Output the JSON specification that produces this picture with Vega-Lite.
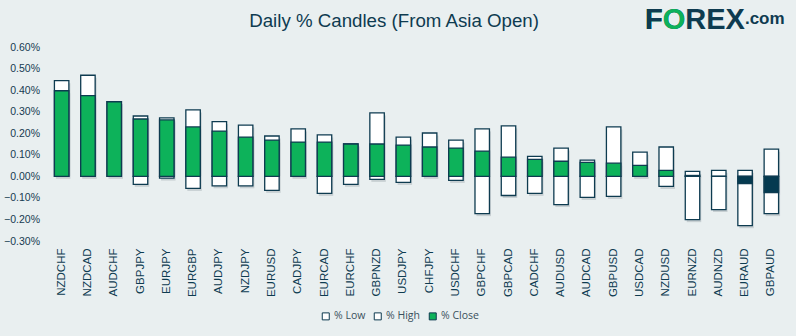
{
  "$schema": "https://vega.github.io/schema/vega-lite/v6.json",
  "width": 736,
  "height": 194,
  "autosize": {"type": "none"},
  "padding": {"left": 48.5, "top": 47, "right": 11.5, "bottom": 95},
  "background": "#e9eff0",
  "config": {
    "view": {"stroke": null},
    "font": "Liberation Sans",
    "axisY": {"labelOverlap": false, "labelFlush": false}
  },
  "title": {
    "text": "Daily % Candles (From Asia Open)",
    "anchor": "middle",
    "frame": "bounds",
    "font": "Liberation Sans",
    "fontSize": 18.7,
    "fontWeight": "normal",
    "color": "#0e3b50",
    "baseline": "alphabetic",
    "offset": -40
  },
  "datasets": {
    "candles": [
      {"pair": "NZDCHF", "series": "% High", "value": 0.444},
      {"pair": "NZDCAD", "series": "% High", "value": 0.469},
      {"pair": "AUDCHF", "series": "% High", "value": 0.346},
      {"pair": "GBPJPY", "series": "% High", "value": 0.280},
      {"pair": "EURJPY", "series": "% High", "value": 0.271},
      {"pair": "EURGBP", "series": "% High", "value": 0.308},
      {"pair": "AUDJPY", "series": "% High", "value": 0.254},
      {"pair": "NZDJPY", "series": "% High", "value": 0.238},
      {"pair": "EURUSD", "series": "% High", "value": 0.187},
      {"pair": "CADJPY", "series": "% High", "value": 0.220},
      {"pair": "EURCAD", "series": "% High", "value": 0.192},
      {"pair": "EURCHF", "series": "% High", "value": 0.150},
      {"pair": "GBPNZD", "series": "% High", "value": 0.294},
      {"pair": "USDJPY", "series": "% High", "value": 0.182},
      {"pair": "CHFJPY", "series": "% High", "value": 0.201},
      {"pair": "USDCHF", "series": "% High", "value": 0.168},
      {"pair": "GBPCHF", "series": "% High", "value": 0.220},
      {"pair": "GBPCAD", "series": "% High", "value": 0.234},
      {"pair": "CADCHF", "series": "% High", "value": 0.093},
      {"pair": "AUDUSD", "series": "% High", "value": 0.131},
      {"pair": "AUDCAD", "series": "% High", "value": 0.075},
      {"pair": "GBPUSD", "series": "% High", "value": 0.229},
      {"pair": "USDCAD", "series": "% High", "value": 0.112},
      {"pair": "NZDUSD", "series": "% High", "value": 0.136},
      {"pair": "EURNZD", "series": "% High", "value": 0.023},
      {"pair": "AUDNZD", "series": "% High", "value": 0.028},
      {"pair": "EURAUD", "series": "% High", "value": 0.028},
      {"pair": "GBPAUD", "series": "% High", "value": 0.126},
      {"pair": "NZDCHF", "series": "% Low", "value": 0},
      {"pair": "NZDCAD", "series": "% Low", "value": 0},
      {"pair": "AUDCHF", "series": "% Low", "value": 0},
      {"pair": "GBPJPY", "series": "% Low", "value": -0.037},
      {"pair": "EURJPY", "series": "% Low", "value": -0.008},
      {"pair": "EURGBP", "series": "% Low", "value": -0.056},
      {"pair": "AUDJPY", "series": "% Low", "value": -0.044},
      {"pair": "NZDJPY", "series": "% Low", "value": -0.044},
      {"pair": "EURUSD", "series": "% Low", "value": -0.065},
      {"pair": "CADJPY", "series": "% Low", "value": 0},
      {"pair": "EURCAD", "series": "% Low", "value": -0.079},
      {"pair": "EURCHF", "series": "% Low", "value": -0.037},
      {"pair": "GBPNZD", "series": "% Low", "value": -0.014},
      {"pair": "USDJPY", "series": "% Low", "value": -0.028},
      {"pair": "CHFJPY", "series": "% Low", "value": 0},
      {"pair": "USDCHF", "series": "% Low", "value": -0.019},
      {"pair": "GBPCHF", "series": "% Low", "value": -0.173},
      {"pair": "GBPCAD", "series": "% Low", "value": -0.089},
      {"pair": "CADCHF", "series": "% Low", "value": -0.079},
      {"pair": "AUDUSD", "series": "% Low", "value": -0.131},
      {"pair": "AUDCAD", "series": "% Low", "value": -0.098},
      {"pair": "GBPUSD", "series": "% Low", "value": -0.093},
      {"pair": "USDCAD", "series": "% Low", "value": 0},
      {"pair": "NZDUSD", "series": "% Low", "value": -0.047},
      {"pair": "EURNZD", "series": "% Low", "value": -0.201},
      {"pair": "AUDNZD", "series": "% Low", "value": -0.154},
      {"pair": "EURAUD", "series": "% Low", "value": -0.229},
      {"pair": "GBPAUD", "series": "% Low", "value": -0.173},
      {"pair": "NZDCHF", "series": "% Close", "value": 0.397},
      {"pair": "NZDCAD", "series": "% Close", "value": 0.374},
      {"pair": "AUDCHF", "series": "% Close", "value": 0.346},
      {"pair": "GBPJPY", "series": "% Close", "value": 0.266},
      {"pair": "EURJPY", "series": "% Close", "value": 0.262},
      {"pair": "EURGBP", "series": "% Close", "value": 0.229},
      {"pair": "AUDJPY", "series": "% Close", "value": 0.210},
      {"pair": "NZDJPY", "series": "% Close", "value": 0.182},
      {"pair": "EURUSD", "series": "% Close", "value": 0.168},
      {"pair": "CADJPY", "series": "% Close", "value": 0.159},
      {"pair": "EURCAD", "series": "% Close", "value": 0.159},
      {"pair": "EURCHF", "series": "% Close", "value": 0.150},
      {"pair": "GBPNZD", "series": "% Close", "value": 0.150},
      {"pair": "USDJPY", "series": "% Close", "value": 0.145},
      {"pair": "CHFJPY", "series": "% Close", "value": 0.136},
      {"pair": "USDCHF", "series": "% Close", "value": 0.131},
      {"pair": "GBPCHF", "series": "% Close", "value": 0.117},
      {"pair": "GBPCAD", "series": "% Close", "value": 0.089},
      {"pair": "CADCHF", "series": "% Close", "value": 0.079},
      {"pair": "AUDUSD", "series": "% Close", "value": 0.070},
      {"pair": "AUDCAD", "series": "% Close", "value": 0.065},
      {"pair": "GBPUSD", "series": "% Close", "value": 0.061},
      {"pair": "USDCAD", "series": "% Close", "value": 0.051},
      {"pair": "NZDUSD", "series": "% Close", "value": 0.028},
      {"pair": "EURNZD", "series": "% Close", "value": 0.004},
      {"pair": "AUDNZD", "series": "% Close", "value": 0.0},
      {"pair": "EURAUD", "series": "% Close", "value": -0.034},
      {"pair": "GBPAUD", "series": "% Close", "value": -0.076}
    ],
    "logo": [
      {"pair": "USDCAD", "level": 0.6835}
    ]
  },
  "layer": [
    {
      "data": {"name": "candles"},
      "mark": {"type": "bar", "color": "#c7cfd2", "xOffset": 1.5, "yOffset": 2.5},
      "encoding": {
        "x": {
          "field": "pair", "type": "nominal", "sort": null, "title": null,
          "scale": {"paddingInner": 0.45, "paddingOuter": 0.225},
          "axis": {
            "labelAngle": -90, "labelFont": "Liberation Sans", "labelFontSize": 11.5,
            "labelColor": "#0e3b50", "labelPadding": 7, "domain": false, "ticks": false
          }
        },
        "y": {
          "field": "value", "type": "quantitative", "stack": null, "title": null,
          "scale": {"domain": [-0.3, 0.6], "nice": false, "zero": false},
          "axis": {
            "values": [-0.3, -0.2, -0.1, 0, 0.1, 0.2, 0.3, 0.4, 0.5, 0.6],
            "tickCount": 10,
            "labelExpr": "format(datum.value, '.2f') + '%'",
            "labelOverlap": false, "labelFlush": false,
            "labelFont": "Liberation Sans", "labelFontSize": 10.5, "labelColor": "#163a50",
            "labelPadding": 9, "domain": false, "ticks": false, "grid": false
          }
        }
      }
    },
    {
      "data": {"name": "candles"},
      "mark": {"type": "bar", "stroke": "#0e3b50", "strokeWidth": 1.3},
      "encoding": {
        "x": {"field": "pair", "type": "nominal", "sort": null},
        "y": {"field": "value", "type": "quantitative", "stack": null},
        "color": {
          "condition": {"test": "datum.series === '% Close' && datum.value < 0", "value": "#053a50"},
          "field": "series", "type": "nominal",
          "scale": {"domain": ["% Low", "% High", "% Close"], "range": ["#ffffff", "#ffffff", "#0db25a"]},
          "legend": {
            "title": null, "orient": "none", "direction": "horizontal",
            "legendX": 272, "legendY": 264,
            "symbolType": "square", "symbolSize": 49, "symbolStrokeColor": "#0e3b50",
            "symbolStrokeWidth": 1, "symbolOpacity": 1,
            "labelFont": "Open Sans", "labelFontSize": 10.5, "labelColor": "#3a4f5c",
            "labelOffset": 3, "columnPadding": 6
          }
        }
      }
    },
    {
      "mark": {"type": "rule", "color": "#000000", "strokeWidth": 1},
      "encoding": {"y": {"datum": 0}}
    },
    {
      "data": {"name": "logo"},
      "mark": {"type": "text", "text": "FOREX", "align": "left", "baseline": "alphabetic", "dx": 5, "font": "Liberation Sans", "fontWeight": "bold", "fontSize": 29, "color": "#0e3b50"},
      "encoding": {"x": {"field": "pair", "type": "nominal", "sort": null}, "y": {"field": "level", "type": "quantitative"}}
    },
    {
      "data": {"name": "logo"},
      "mark": {"type": "text", "text": "FO", "align": "left", "baseline": "alphabetic", "dx": 5, "font": "Liberation Sans", "fontWeight": "bold", "fontSize": 29, "color": "#0db25a"},
      "encoding": {"x": {"field": "pair", "type": "nominal", "sort": null}, "y": {"field": "level", "type": "quantitative"}}
    },
    {
      "data": {"name": "logo"},
      "mark": {"type": "text", "text": "F", "align": "left", "baseline": "alphabetic", "dx": 5, "font": "Liberation Sans", "fontWeight": "bold", "fontSize": 29, "color": "#0e3b50"},
      "encoding": {"x": {"field": "pair", "type": "nominal", "sort": null}, "y": {"field": "level", "type": "quantitative"}}
    },
    {
      "data": {"name": "logo"},
      "mark": {"type": "text", "text": ".com", "align": "left", "baseline": "alphabetic", "dx": 105, "dy": -5, "font": "Liberation Sans", "fontWeight": "bold", "fontSize": 17, "color": "#0e3b50"},
      "encoding": {"x": {"field": "pair", "type": "nominal", "sort": null}, "y": {"field": "level", "type": "quantitative"}}
    }
  ]
}
